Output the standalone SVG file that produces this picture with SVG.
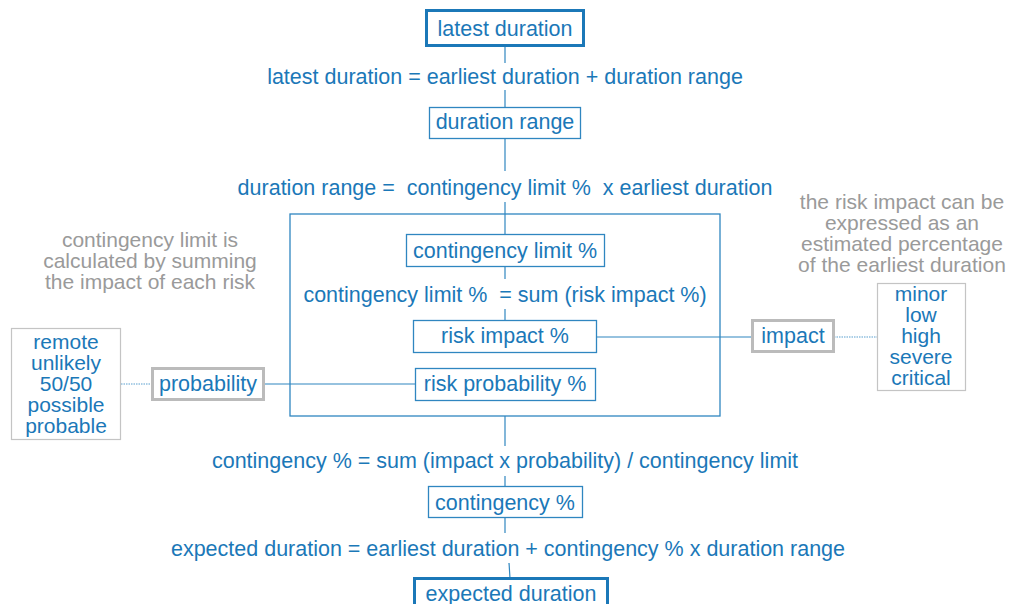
<svg xmlns="http://www.w3.org/2000/svg" width="1013" height="604" viewBox="0 0 1013 604">
<style>
text{font-family:"Liberation Sans",Arial,sans-serif;font-size:21.5px;fill:#1b78b8;text-anchor:middle}
.g{fill:#9a9a9a;font-size:21px}
.box{fill:#fff;stroke:#2f86c0;stroke-width:1.3}
.thick{fill:#fff;stroke:#1b78b8;stroke-width:3}
.gbox{fill:#fff;stroke:#bbbbbb;stroke-width:3}
.list{fill:#fff;stroke:#c4c4c4;stroke-width:1.2}
.li{font-size:21px}
.ln{stroke:#2f86c0;stroke-width:1.2;fill:none}
.dot{stroke:#5a9fcf;stroke-width:1.2;stroke-dasharray:1.5 1;fill:none}
</style>
<g id="connectors">
<line class="ln" x1="505" y1="46" x2="505" y2="63"/>
<line class="ln" x1="505" y1="90" x2="505" y2="107"/>
<line class="ln" x1="505" y1="139" x2="505" y2="171"/>
<line class="ln" x1="505" y1="202" x2="505" y2="234"/>
<line class="ln" x1="505" y1="267" x2="505" y2="279"/>
<line class="ln" x1="505" y1="309" x2="505" y2="320"/>
<line class="ln" x1="597" y1="337" x2="752" y2="337"/>
<line class="dot" x1="834" y1="337" x2="877" y2="337"/>
<line class="ln" x1="264" y1="384" x2="415" y2="384"/>
<line class="dot" x1="121" y1="384" x2="152" y2="384"/>
<line class="ln" x1="505" y1="416" x2="505" y2="446"/>
<line class="ln" x1="505" y1="476" x2="505" y2="486"/>
<line class="ln" x1="505" y1="518" x2="505" y2="533"/>
<line class="ln" x1="509" y1="563" x2="510" y2="578"/>
</g>
<g id="container"><rect x="290" y="214" width="430" height="202" fill="none" stroke="#2f86c0" stroke-width="1.3"/></g>
<g id="latest-duration"><rect class="thick" x="426.5" y="10.5" width="157" height="35"/><text x="505" y="35.5">latest duration</text></g>
<g id="f1"><text x="505" y="83.5">latest duration = earliest duration + duration range</text></g>
<g id="duration-range"><rect class="box" x="429.5" y="107.5" width="151" height="31"/><text x="505" y="128.5">duration range</text></g>
<g id="f2"><text x="505" y="194.5" xml:space="preserve">duration range =  contingency limit %  x earliest duration</text></g>
<g id="contingency-limit"><rect class="box" x="406.5" y="234.5" width="198" height="32"/><text x="505" y="257.5">contingency limit %</text></g>
<g id="f3"><text x="505" y="301.5" xml:space="preserve">contingency limit %  = sum (risk impact %)</text></g>
<g id="risk-impact"><rect class="box" x="413.5" y="320.5" width="183" height="32"/><text x="505" y="342.5">risk impact %</text></g>
<g id="risk-probability"><rect class="box" x="415.5" y="368.5" width="180" height="32"/><text x="505" y="390.5">risk probability %</text></g>
<g id="impact"><rect class="gbox" x="752.5" y="320.5" width="81" height="31"/><text x="793" y="342.5">impact</text></g>
<g id="impact-list"><rect class="list" x="877.5" y="283.5" width="88" height="107"/>
<text class="li" x="921" y="300.5">minor</text><text class="li" x="921" y="321.5">low</text><text class="li" x="921" y="342.5">high</text><text class="li" x="921" y="364">severe</text><text class="li" x="921" y="385">critical</text></g>
<g id="probability"><rect class="gbox" x="152.5" y="368.5" width="111" height="31"/><text x="208" y="390.5">probability</text></g>
<g id="probability-list"><rect class="list" x="11.5" y="328.5" width="109" height="111"/>
<text class="li" x="66" y="348.5">remote</text><text class="li" x="66" y="369.5">unlikely</text><text class="li" x="66" y="390.5">50/50</text><text class="li" x="66" y="412">possible</text><text class="li" x="66" y="433">probable</text></g>
<g id="note-left"><text class="g" x="150" y="246.5">contingency limit is</text><text class="g" x="150" y="267.5">calculated by summing</text><text class="g" x="150" y="288.5">the impact of each risk</text></g>
<g id="note-right"><text class="g" x="902" y="208.5">the risk impact can be</text><text class="g" x="902" y="229.5">expressed as an</text><text class="g" x="902" y="250.5">estimated percentage</text><text class="g" x="902" y="271.5">of the earliest duration</text></g>
<g id="f4"><text x="505" y="467.5">contingency % = sum (impact x probability) / contingency limit</text></g>
<g id="contingency"><rect class="box" x="428.5" y="486.5" width="154" height="31"/><text x="505" y="509.5">contingency %</text></g>
<g id="f5"><text x="508" y="555.5">expected duration = earliest duration + contingency % x duration range</text></g>
<g id="expected-duration"><rect class="thick" x="414.5" y="578.5" width="193" height="40"/><text x="511" y="600.5">expected duration</text></g>
</svg>
